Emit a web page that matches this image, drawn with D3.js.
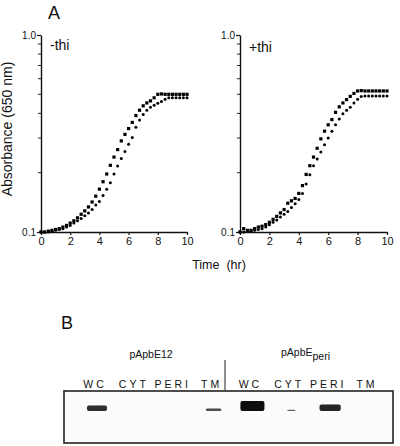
<!DOCTYPE html>
<html><head><meta charset="utf-8">
<script src="https://cdn.jsdelivr.net/npm/d3@7"></script>
<style>
html,body{margin:0;padding:0;background:#fff;}
svg{display:block;font-family:"Liberation Sans",Arial,Helvetica,sans-serif;}
</style></head>
<body>
<svg id="chart" width="400" height="446"></svg>
<script>
// ---------- DATA ----------
const times = [0,0.25,0.5,0.75,1,1.25,1.5,1.75,2,2.25,2.5,2.75,3,3.25,3.5,3.75,4,4.25,4.5,4.75,5,5.25,5.5,5.75,6,6.25,6.5,6.75,7,7.25,7.5,7.75,8,8.25,8.5,8.75,9,9.25,9.5,9.75,10];
// -thi panel
const minusThiSquares = [0.100,0.100,0.101,0.102,0.103,0.104,0.106,0.108,0.111,0.114,0.118,0.123,0.128,0.134,0.142,0.152,0.165,0.180,0.197,0.218,0.240,0.262,0.290,0.313,0.335,0.360,0.390,0.415,0.437,0.452,0.463,0.480,0.500,0.502,0.500,0.500,0.500,0.500,0.500,0.500,0.500];
const minusThiCircles = [0.100,0.100,0.100,0.101,0.102,0.103,0.104,0.106,0.108,0.111,0.114,0.117,0.121,0.125,0.130,0.137,0.143,0.153,0.165,0.178,0.197,0.216,0.236,0.256,0.279,0.302,0.340,0.370,0.395,0.415,0.430,0.440,0.450,0.460,0.472,0.480,0.480,0.480,0.480,0.480,0.480];
// +thi panel
const plusThiSquares = [0.100,0.104,0.102,0.102,0.104,0.106,0.107,0.109,0.112,0.116,0.120,0.125,0.130,0.140,0.144,0.148,0.157,0.172,0.196,0.217,0.240,0.266,0.297,0.325,0.350,0.372,0.405,0.432,0.452,0.470,0.488,0.505,0.520,0.522,0.520,0.520,0.520,0.520,0.520,0.520,0.520];
const plusThiCircles = [0.100,0.100,0.101,0.101,0.102,0.103,0.104,0.106,0.109,0.112,0.115,0.119,0.123,0.127,0.133,0.139,0.146,0.157,0.175,0.195,0.217,0.235,0.255,0.277,0.300,0.325,0.350,0.375,0.398,0.415,0.430,0.452,0.472,0.488,0.490,0.490,0.490,0.490,0.490,0.490,0.490];
const xTicks = [0,2,4,6,8,10];
const yTickLabels = ["0.1","1.0"];
const yMinorTicks = [0.2,0.3,0.4,0.5,0.6,0.7,0.8,0.9];
const panelLabels = ["-thi","+thi"];
// Panel B (western blot)
const lanes = ["WC","CYT","PERI","TM","WC","CYT","PERI","TM"];
const constructs = ["pApbE12","pApbE"];
const bandIntensity = [0.7,0,0,0.42,1.0,0.12,0.78,0];

// ---------- DRAW ----------
const svg = d3.select("#chart");
const panels = [
  {left:41, right:187, top:35, bottom:232, sq:minusThiSquares, ci:minusThiCircles, label:panelLabels[0], lx:50, ly:50},
  {left:240, right:387, top:35, bottom:232, sq:plusThiSquares, ci:plusThiCircles, label:panelLabels[1], lx:249, ly:52}
];

panels.forEach(p => {
  const x = d3.scaleLinear().domain([0,10]).range([p.left,p.right]);
  const y = d3.scaleLog().domain([0.1,1]).range([p.bottom,p.top]);
  const g = svg.append("g");
  const xa = g.append("g").attr("transform",`translate(0,${p.bottom})`)
    .call(d3.axisBottom(x).tickValues(xTicks).tickSize(3).tickSizeOuter(0).tickPadding(2).tickFormat(d3.format("d")));
  xa.select(".domain").attr("stroke","#111").attr("stroke-width",1.4);
  xa.selectAll(".tick line").attr("stroke","#111").attr("stroke-width",1.2);
  xa.selectAll("text").attr("font-size",11).attr("fill","#111").attr("font-family","Liberation Sans, Arial, sans-serif");
  const ya = g.append("g").attr("transform",`translate(${p.left},0)`)
    .call(d3.axisLeft(y).tickValues([0.1,1]).tickSize(4).tickSizeOuter(0).tickPadding(1).tickFormat((d,i)=>yTickLabels[i]));
  ya.select(".domain").attr("stroke","#111").attr("stroke-width",1.4);
  ya.selectAll(".tick line").attr("stroke","#111").attr("stroke-width",1.2);
  ya.selectAll("text").attr("font-size",10).attr("fill","#111");
  ya.selectAll(".minor").data(yMinorTicks).enter().append("line")
    .attr("x1",-3).attr("x2",0).attr("y1",d=>y(d)).attr("y2",d=>y(d))
    .attr("stroke","#222").attr("stroke-width",1);
  g.selectAll(".ci").data(times.map((t,i)=>[t,p.ci[i]])).enter().append("circle")
    .attr("cx",d=>x(d[0])).attr("cy",d=>y(d[1])).attr("r",1.5).attr("fill","#000");
  const s = 3.2;
  g.selectAll(".sq").data(times.map((t,i)=>[t,p.sq[i]])).enter().append("rect")
    .attr("x",d=>x(d[0])-s/2).attr("y",d=>y(d[1])-s/2).attr("width",s).attr("height",s).attr("fill","#000");
  g.append("text").attr("x",p.lx).attr("y",p.ly).attr("font-size",14).attr("fill","#111").text(p.label);
});

svg.append("text").attr("x",48).attr("y",19).attr("font-size",18).attr("fill","#111").text("A");
svg.append("text").attr("transform","translate(12,129) rotate(-90)").attr("text-anchor","middle")
  .attr("font-size",14).attr("fill","#111").text("Absorbance (650 nm)");
svg.append("text").attr("x",219).attr("y",269).attr("text-anchor","middle").attr("font-size",12.5)
  .attr("fill","#111").style("white-space","pre").text("Time  (hr)");

// ---------- Panel B ----------
svg.append("text").attr("x",61).attr("y",329).attr("font-size",18).attr("fill","#111").text("B");
svg.append("text").attr("x",151).attr("y",358).attr("text-anchor","middle").attr("font-size",10.5).attr("fill","#111").text(constructs[0]);
const c2 = svg.append("text").attr("x",281).attr("y",356).attr("font-size",10.5).attr("fill","#111");
c2.append("tspan").text(constructs[1]);
c2.append("tspan").attr("dy",4).attr("font-size",10.5).text("peri");

svg.append("line").attr("x1",225).attr("x2",225).attr("y1",360).attr("y2",390).attr("stroke","#222").attr("stroke-width",1);

const lx = d3.scalePoint().domain(d3.range(lanes.length)).range([94,366]);
svg.selectAll(".lane").data(lanes).enter().append("text")
  .attr("x",(d,i)=>lx(i)+1).attr("y",388).attr("text-anchor","middle")
  .attr("font-size",10.5).attr("letter-spacing","3px").attr("fill","#111").text(d=>d);

svg.append("rect").attr("x",64).attr("y",391).attr("width",329).attr("height",52)
  .attr("fill","#fbfbfb").attr("stroke","#222").attr("stroke-width",1.6);

const defs = svg.append("defs");
defs.append("filter").attr("id","blur").append("feGaussianBlur").attr("stdDeviation",0.6);
const bw = d3.scaleSqrt().domain([0,1]).range([0,24]);
const bh = d3.scalePow().exponent(2).domain([0,1]).range([1,10]);
const op = d3.scaleLinear().domain([0,1]).range([0.55,1]);
svg.append("g").attr("filter","url(#blur)").selectAll("rect")
  .data(bandIntensity.map((v,i)=>[i,v]).filter(d=>d[1]>0)).enter().append("rect")
  .attr("x",d=>lx(d[0])+3-bw(d[1])/2).attr("y",d=>411-bh(d[1]))
  .attr("width",d=>bw(d[1])).attr("height",d=>bh(d[1]))
  .attr("rx",2).attr("fill","#0a0a0a").attr("opacity",d=>op(d[1]));
</script>
</body></html>
